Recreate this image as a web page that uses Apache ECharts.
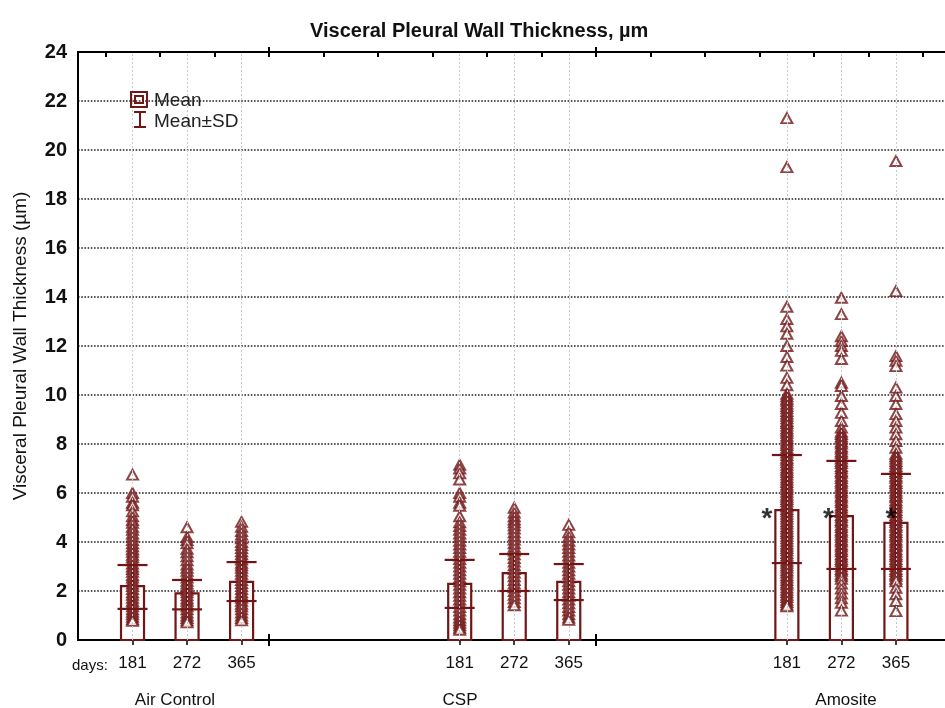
<!DOCTYPE html>
<html>
<head>
<meta charset="utf-8">
<script src="https://cdn.jsdelivr.net/npm/echarts@6/dist/echarts.min.js"></script>
<style>
  html, body { margin: 0; padding: 0; background: #fff; }
  #chart { width: 945px; height: 708px; }
</style>
</head>
<body>
<div id="chart"></div>
<script>
// ---- data ----
const groups = ["Air Control", "CSP", "Amosite"];
const days = ["181", "272", "365"];
// one entry per bar: AC 181/272/365, CSP 181/272/365, Amosite 181/272/365
const means = [2.2, 1.9, 2.37, 2.29, 2.73, 2.37, 5.3, 5.06, 4.78];
const sdLow = [1.27, 1.25, 1.59, 1.31, 2.0, 1.63, 3.14, 2.9, 2.9];
const sdHigh = [3.06, 2.45, 3.18, 3.27, 3.51, 3.1, 7.55, 7.31, 6.78];
const starLevel = [null, null, null, null, null, null, 5.15, 5.15, 5.15];

const ac181 = [6.75, 6.0, 5.85, 5.6, 5.5, 5.25, 5.05, 4.9, 4.78, 4.62, 4.5, 4.35, 4.22, 4.08, 3.95, 3.82, 3.7, 3.6, 3.48, 3.38, 3.25, 3.12, 3.0, 2.9, 2.78, 2.65, 2.55, 2.42, 2.3, 2.2, 2.08, 1.95, 1.85, 1.72, 1.6, 1.5, 1.38, 1.25, 1.15, 1.05, 0.95, 0.85, 0.78];
const ac272 = [4.6, 4.2, 4.08, 3.95, 3.72, 3.58, 3.42, 3.25, 3.08, 2.95, 2.82, 2.68, 2.55, 2.42, 2.3, 2.18, 2.05, 1.95, 1.82, 1.7, 1.6, 1.48, 1.38, 1.25, 1.12, 1.0, 0.9, 0.8, 0.72];
const ac365 = [4.82, 4.62, 4.45, 4.3, 4.15, 4.0, 3.88, 3.75, 3.62, 3.5, 3.38, 3.28, 3.15, 3.05, 2.95, 2.82, 2.7, 2.58, 2.45, 2.32, 2.2, 2.08, 1.95, 1.85, 1.72, 1.6, 1.48, 1.38, 1.25, 1.12, 1.0, 0.9, 0.8];
const csp181 = [7.15, 7.0, 6.8, 6.55, 6.0, 5.85, 5.6, 5.48, 5.05, 4.8, 4.65, 4.5, 4.35, 4.2, 4.05, 3.9, 3.75, 3.6, 3.45, 3.3, 3.15, 3.0, 2.85, 2.7, 2.55, 2.4, 2.25, 2.1, 1.95, 1.8, 1.65, 1.5, 1.35, 1.2, 1.05, 0.92, 0.8, 0.7, 0.6, 0.5, 0.42];
const csp272 = [5.4, 5.2, 5.05, 4.92, 4.8, 4.68, 4.55, 4.4, 4.25, 4.1, 3.95, 3.8, 3.65, 3.5, 3.35, 3.2, 3.05, 2.9, 2.75, 2.6, 2.45, 2.3, 2.15, 2.0, 1.85, 1.7, 1.55, 1.42];
const csp365 = [4.7, 4.4, 4.2, 4.05, 3.9, 3.75, 3.6, 3.45, 3.3, 3.15, 3.0, 2.85, 2.7, 2.55, 2.4, 2.25, 2.1, 1.95, 1.8, 1.65, 1.5, 1.35, 1.2, 1.05, 0.92, 0.82];
const amo181 = [21.3, 19.3, 13.6, 13.1, 12.8, 12.5, 12.0, 11.55, 11.2, 10.7, 10.4, 10.05, 9.95, 9.84, 9.76, 9.65, 9.55, 9.46, 9.35, 9.24, 9.15, 9.05, 8.94, 8.86, 8.75, 8.64, 8.55, 8.46, 8.35, 8.25, 8.14, 8.05, 7.96, 7.85, 7.74, 7.65, 7.55, 7.44, 7.36, 7.25, 7.15, 7.04, 6.95, 6.86, 6.75, 6.64, 6.55, 6.45, 6.35, 6.26, 6.15, 6.05, 5.94, 5.85, 5.75, 5.66, 5.55, 5.45, 5.34, 5.25, 5.15, 5.05, 4.96, 4.85, 4.75, 4.64, 4.55, 4.45, 4.36, 4.25, 4.15, 4.05, 3.94, 3.85, 3.75, 3.66, 3.55, 3.45, 3.35, 3.24, 3.15, 3.05, 2.96, 2.85, 2.75, 2.64, 2.55, 2.45, 2.35, 2.26, 2.15, 2.05, 1.95, 1.84, 1.75, 1.64, 1.55, 1.45, 1.38];
const amo272 = [13.97, 13.3, 12.4, 12.2, 12.0, 11.8, 11.47, 10.5, 10.37, 9.96, 9.63, 9.27, 8.94, 8.67, 8.5, 8.41, 8.3, 8.22, 8.1, 8.02, 7.9, 7.81, 7.7, 7.62, 7.5, 7.41, 7.3, 7.22, 7.1, 7.01, 6.9, 6.82, 6.7, 6.61, 6.5, 6.42, 6.3, 6.21, 6.1, 6.02, 5.9, 5.81, 5.7, 5.62, 5.5, 5.41, 5.3, 5.22, 5.1, 5.01, 4.9, 4.82, 4.7, 4.61, 4.5, 4.42, 4.3, 4.21, 4.1, 4.02, 3.9, 3.81, 3.7, 3.62, 3.5, 3.41, 3.3, 3.22, 3.1, 3.01, 2.9, 2.82, 2.7, 2.61, 2.5, 2.3, 2.1, 1.9, 1.7, 1.52, 1.2];
const amo365 = [19.55, 14.24, 11.59, 11.4, 11.18, 10.3, 9.96, 9.63, 9.22, 8.94, 8.67, 8.4, 8.12, 7.85, 7.6, 7.5, 7.41, 7.3, 7.21, 7.1, 7.02, 6.9, 6.81, 6.7, 6.62, 6.5, 6.41, 6.3, 6.22, 6.1, 6.01, 5.9, 5.82, 5.7, 5.61, 5.5, 5.42, 5.3, 5.21, 5.1, 5.02, 4.9, 4.81, 4.7, 4.62, 4.5, 4.41, 4.3, 4.22, 4.1, 4.01, 3.9, 3.82, 3.7, 3.61, 3.5, 3.42, 3.3, 3.21, 3.1, 3.02, 2.9, 2.81, 2.7, 2.62, 2.5, 2.4, 2.13, 1.87, 1.59, 1.18];
const points = [ac181, ac272, ac365, csp181, csp272, csp365, amo181, amo272, amo365];

// ---- layout ----
const slot = [1, 2, 3, 7, 8, 9, 13, 14, 15];        // x position of each bar
const groupEdges = [3.5, 9.5];
const halfSteps = [0.5, 1.5, 2.5, 3.5, 4.5, 5.5, 6.5, 7.5, 8.5, 9.5, 10.5, 11.5, 12.5, 13.5, 14.5, 15.5];
const xMax = 15.9;
const starDx = [0, 0, 0, 0, 0, 0, -20, -13, -5];
const RED = "#721515";
const FONT = "Liberation Sans, Arial, sans-serif";

const chart = echarts.init(document.getElementById("chart"), null, { renderer: "canvas" });

const xBase = {
  type: "value", min: 0, max: xMax, gridIndex: 0,
  splitLine: { show: false },
  axisLabel: { show: false },
  axisTick: { show: false },
  axisLine: { show: false, onZero: false }
};
const blackLine = { color: "#000", width: 2 };

const option = {
  backgroundColor: "#fff",
  animation: false,
  title: {
    text: "Visceral Pleural Wall Thickness, µm",
    left: 305, top: 16,
    textStyle: { fontFamily: FONT, fontSize: 20, fontWeight: "bold", color: "#111" }
  },
  grid: { left: 78, right: 0, top: 52, bottom: 68, outerBoundsMode: "none", containLabel: false },
  xAxis: [
    Object.assign({}, xBase, {
      position: "bottom",
      axisLine: { show: true, onZero: false, lineStyle: blackLine },
      axisTick: { show: true, customValues: slot, length: 5, lineStyle: { color: "#000", width: 1.5 } },
      axisLabel: {
        show: true, customValues: slot, margin: 15,
        formatter: v => days[slot.indexOf(v) % 3],
        fontFamily: FONT, fontSize: 17, color: "#111"
      }
    }),
    Object.assign({}, xBase, {
      position: "bottom",
      axisTick: { show: true, customValues: groupEdges, length: 6, lineStyle: blackLine }
    }),
    Object.assign({}, xBase, {
      position: "bottom",
      axisTick: { show: true, inside: true, customValues: groupEdges, length: 6, lineStyle: blackLine }
    }),
    Object.assign({}, xBase, {
      position: "top",
      axisLine: { show: true, onZero: false, lineStyle: blackLine },
      axisTick: { show: true, inside: true, customValues: halfSteps, length: 5, lineStyle: blackLine }
    }),
    Object.assign({}, xBase, {
      position: "top",
      axisTick: { show: true, customValues: groupEdges, length: 5, lineStyle: blackLine }
    })
  ],
  yAxis: {
    type: "value", min: 0, max: 24, interval: 2,
    name: "Visceral Pleural Wall Thickness (µm)",
    nameLocation: "middle", nameGap: 48,
    nameTextStyle: { fontFamily: FONT, fontSize: 19, color: "#111" },
    axisLine: { show: true, lineStyle: blackLine },
    axisTick: { show: false },
    axisLabel: { fontFamily: FONT, fontSize: 20, fontWeight: "bold", color: "#111", margin: 11 },
    splitLine: { show: true, lineStyle: { color: "#222", width: 1.6, type: [1.6, 1.6] } }
  },
  series: [
    {
      // vertical dotted grid at each bar position
      type: "scatter", data: [], z: 0, silent: true,
      markLine: {
        silent: true, symbol: "none", label: { show: false },
        lineStyle: { color: "#c4ccd6", width: 1, type: [2, 2] },
        data: slot.map(s => ({ xAxis: s }))
      }
    },
    {
      type: "custom", name: "Mean", z: 2,
      data: means.map((m, i) => [slot[i], m]),
      renderItem: (params, api) => {
        const top = api.coord([api.value(0), api.value(1)]);
        const base = api.coord([api.value(0), 0]);
        const w = 23;
        return {
          type: "rect",
          shape: { x: top[0] - w / 2, y: top[1], width: w, height: base[1] - top[1] },
          style: { fill: "#fff", stroke: RED, lineWidth: 2.2 }
        };
      }
    },
    {
      type: "scatter", name: "points", z: 3,
      symbol: "triangle", symbolSize: [11, 10],
      itemStyle: { color: "#fff", borderColor: RED, borderWidth: 2 },
      data: points.flatMap((arr, i) => arr.map(v => [slot[i], v]))
    },
    {
      type: "custom", name: "Mean±SD", z: 4,
      data: sdLow.map((lo, i) => [slot[i], lo, sdHigh[i]]),
      renderItem: (params, api) => {
        const lo = api.coord([api.value(0), api.value(1)]);
        const hi = api.coord([api.value(0), api.value(2)]);
        const hw = 15;
        const st = { stroke: RED, lineWidth: 2.2 };
        return {
          type: "group",
          children: [
            { type: "line", shape: { x1: lo[0], y1: lo[1], x2: hi[0], y2: hi[1] }, style: st },
            { type: "line", shape: { x1: lo[0] - hw, y1: lo[1], x2: lo[0] + hw, y2: lo[1] }, style: st },
            { type: "line", shape: { x1: hi[0] - hw, y1: hi[1], x2: hi[0] + hw, y2: hi[1] }, style: st }
          ]
        };
      }
    },
    {
      type: "scatter", name: "stars", z: 5, silent: true,
      symbolSize: 0.1, itemStyle: { color: "transparent" },
      data: starLevel.map((v, i) => v == null ? null : {
        value: [slot[i], v],
        label: {
          show: true, formatter: "*", position: "inside", offset: [starDx[i], 5],
          fontFamily: FONT, fontSize: 28, fontWeight: "bold", color: "#000"
        }
      }).filter(d => d)
    }
  ],
  graphic: [
    // legend
    { type: "rect", shape: { x: 131, y: 92, width: 16, height: 15 }, style: { fill: "none", stroke: RED, lineWidth: 2 }, z: 10 },
    { type: "rect", shape: { x: 135, y: 96, width: 8, height: 7 }, style: { fill: "none", stroke: RED, lineWidth: 2 }, z: 10 },
    { type: "line", shape: { x1: 140, y1: 112, x2: 140, y2: 127 }, style: { stroke: RED, lineWidth: 2 }, z: 10 },
    { type: "line", shape: { x1: 134, y1: 112, x2: 146, y2: 112 }, style: { stroke: RED, lineWidth: 2 }, z: 10 },
    { type: "line", shape: { x1: 134, y1: 127, x2: 146, y2: 127 }, style: { stroke: RED, lineWidth: 2 }, z: 10 },
    { type: "text", x: 154, y: 101, z: 10, style: { text: "Mean", font: "19px " + FONT, fill: "#222", verticalAlign: "middle" } },
    { type: "text", x: 154, y: 122, z: 10, style: { text: "Mean±SD", font: "19px " + FONT, fill: "#222", verticalAlign: "middle" } },
    // x annotations
    { type: "text", x: 72, y: 666, style: { text: "days:", font: "15px " + FONT, fill: "#111", verticalAlign: "middle" } },
    { type: "text", x: 175, y: 700, style: { text: groups[0], font: "17px " + FONT, fill: "#111", align: "center", verticalAlign: "middle" } },
    { type: "text", x: 460, y: 700, style: { text: groups[1], font: "17px " + FONT, fill: "#111", align: "center", verticalAlign: "middle" } },
    { type: "text", x: 846, y: 700, style: { text: groups[2], font: "17px " + FONT, fill: "#111", align: "center", verticalAlign: "middle" } }
  ]
};

chart.setOption(option);
</script>
</body>
</html>
